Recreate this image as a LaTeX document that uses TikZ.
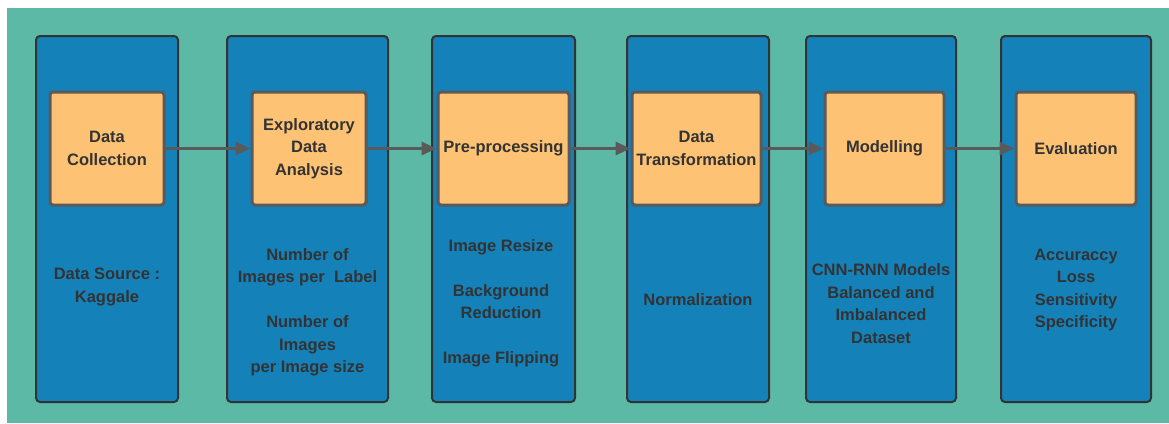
\documentclass[tikz,border=0pt]{standalone}
\usepackage{fontspec}
\setmainfont{Liberation Sans}
\usetikzlibrary{arrows.meta}

\definecolor{sea}{HTML}{5BB9A5}
\definecolor{lane}{HTML}{1581B9}
\definecolor{peach}{HTML}{FEC275}
\definecolor{ink}{HTML}{333333}
\definecolor{rim}{HTML}{5A5A5A}

\tikzset{
	lane/.style={draw=ink,fill=lane,line width=2pt,rounded corners=4pt,
		inner sep=0pt,minimum height=366pt},
	stage/.style={draw=rim,fill=peach,line width=3pt,rounded corners=3pt,
		inner sep=2pt,minimum height=113pt,align=center,text=ink,
		font=\bfseries\fontsize{16.5}{22.5}\selectfont},
	note/.style={align=center,text=ink,inner sep=0pt,
		font=\bfseries\fontsize{16.5}{22.5}\selectfont},
	flow/.style={draw=rim,line width=3pt,-{Triangle[length=15pt,width=13pt]}}
}

\begin{document}
\begin{tikzpicture}[x=1pt,y=-1pt]
	\useasboundingbox (0,0) rectangle (1169,423);
	\fill[white] (0,0) rectangle (1169,423);
	\fill[sea] (7,8) rectangle (1169,423);

	% lanes
	\node[lane,minimum width=142pt] (l1) at (107,219) {};
	\node[lane,minimum width=161pt] (l2) at (307.5,219) {};
	\node[lane,minimum width=143pt] (l3) at (503.5,219) {};
	\node[lane,minimum width=142pt] (l4) at (698,219) {};
	\node[lane,minimum width=150pt] (l5) at (881,219) {};
	\node[lane,minimum width=150pt] (l6) at (1076,219) {};

	% stages
	\node[stage,minimum width=114pt] (collect) at (107,148.5) {Data\\Collection};
	\node[stage,minimum width=114pt] (explore) at (309,148.5) {Exploratory\\Data\\Analysis};
	\node[stage,minimum width=131pt] (prep) at (503.5,148.5) {Pre-processing};
	\node[stage,minimum width=129pt] (transform) at (696.5,148.5) {Data\\Transformation};
	\node[stage,minimum width=119pt] (model) at (884.5,148.5) {Modelling};
	\node[stage,minimum width=120pt] (evaluate) at (1076,148.5) {Evaluation};

	\draw[flow] (collect) -- (explore);
	\draw[flow] (explore) -- (prep);
	\draw[flow] (prep) -- (transform);
	\draw[flow] (transform) -- (model);
	\draw[flow] (model) -- (evaluate);

	% notes
	\node[note] (n1) at (107,287) {Data Source :\\Kaggale};
	\node[note] (n2) at (307.5,312.5) {Number of\\Images per~~Label\\[22.5pt]Number of\\Images\\per Image size};
	\node[note] (n3) at (501,303.5) {Image Resize\\[22.5pt]Background\\Reduction\\[22.5pt]Image Flipping};
	\node[note] (n4) at (698,300) {Normalization};
	\node[note] (n5) at (881,303.5) {CNN-RNN Models\\Balanced and\\Imbalanced\\Dataset};
	\node[note] (n6) at (1076,290) {Accuraccy\\Loss\\Sensitivity\\Specificity};
\end{tikzpicture}
\end{document}
